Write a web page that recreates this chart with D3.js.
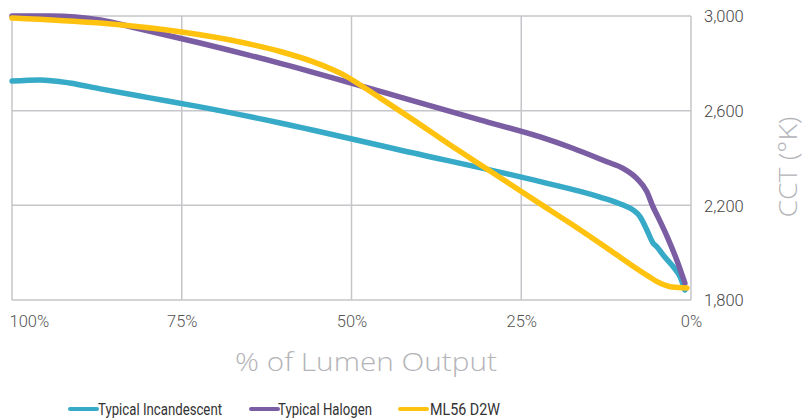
<!DOCTYPE html>
<html>
<head>
<meta charset="utf-8">
<script src="https://cdn.jsdelivr.net/npm/d3@7"></script>
<style>
  html, body { margin: 0; padding: 0; background: #fff; }
  svg { display: block; }
</style>
</head>
<body>
<svg id="chart" width="805" height="418"></svg>
<script>
// ---- Data ----
const xTicks = [100, 75, 50, 25, 0];
const xTickLabels = ["100%", "75%", "50%", "25%", "0%"];
const yTicks = [1800, 2200, 2600, 3000];
const yTickLabels = ["1,800", "2,200", "2,600", "3,000"];

const seriesNames = ["Typical Incandescent", "Typical Halogen", "ML56 D2W"];

const incandescentPct = [100, 95.9, 91.5, 87.0, 79.7, 72.3, 60.5, 42.9, 22.2, 13.4, 10.0, 8.5, 7.5, 6.5, 5.6, 5.0, 4.1, 2.6, 1.6, 0.9];
const incandescentCCT = [2725, 2730, 2717, 2692, 2654, 2616, 2548, 2434, 2300, 2235, 2201, 2180, 2152, 2096, 2041, 2024, 1990, 1940, 1898, 1843];

const halogenPct = [100, 94.4, 90.7, 87.0, 81.1, 72.3, 60.5, 50.7, 40.9, 31.1, 22.2, 17.4, 12.4, 10.0, 8.0, 6.5, 5.6, 5.0, 3.5, 2.1, 0.9];
const halogenCCT = [3000, 3000, 2996, 2983, 2945, 2886, 2800, 2722, 2641, 2561, 2489, 2441, 2384, 2356, 2314, 2258, 2194, 2159, 2067, 1969, 1871];

const ml56Pct = [100, 87.0, 75.0, 66.4, 60.5, 55.7, 50.7, 48.3, 45.8, 40.9, 35.9, 29.6, 22.2, 17.4, 12.4, 9.0, 6.3, 4.6, 2.8, 0.6];
const ml56CCT = [2992, 2970, 2932, 2890, 2850, 2807, 2744, 2701, 2654, 2561, 2463, 2345, 2206, 2117, 2020, 1952, 1901, 1872, 1855, 1851];

const colors = ["#36aac6", "#7b5da3", "#ffc20f"];

// ---- Layout ----
const svg = d3.select("#chart");
const plotLeft = 12, plotRight = 691, plotTop = 16, plotBottom = 300;

const x = d3.scaleLinear().domain([100, 0]).range([plotLeft, plotRight]);
const y = d3.scaleLinear().domain([1800, 3000]).range([plotBottom, plotTop]);

const gridColor = "#c6c6ca";

// Vertical grid
svg.append("g")
  .selectAll("line")
  .data(xTicks)
  .join("line")
  .attr("x1", d => x(d)).attr("x2", d => x(d))
  .attr("y1", plotTop).attr("y2", plotBottom)
  .attr("stroke", gridColor).attr("stroke-width", 1.5);

// Horizontal grid
svg.append("g")
  .selectAll("line")
  .data(yTicks)
  .join("line")
  .attr("x1", plotLeft).attr("x2", plotRight)
  .attr("y1", d => y(d)).attr("y2", d => y(d))
  .attr("stroke", gridColor).attr("stroke-width", 1.5);

// Bottom axis labels
const xAxis = d3.axisBottom(x)
  .tickValues(xTicks)
  .tickSize(0)
  .tickPadding(0)
  .tickFormat((d, i) => xTickLabels[i]);
const gx = svg.append("g").attr("transform", `translate(0,${plotBottom})`).call(xAxis);
gx.select(".domain").remove();
gx.selectAll("text")
  .attr("y", 27)
  .attr("dy", 0)
  .attr("font-family", "Roboto, 'Liberation Sans', sans-serif")
  .attr("font-weight", 300)
  .attr("font-size", 16.5)
  .attr("fill", "#555");
gx.selectAll(".tick").filter(d => d === 100).select("text")
  .attr("text-anchor", "start").attr("x", -3);

// Right axis labels
const yAxis = d3.axisRight(y)
  .tickValues(yTicks)
  .tickSize(0)
  .tickPadding(0)
  .tickFormat((d, i) => yTickLabels[i]);
const gy = svg.append("g").attr("transform", `translate(${plotRight},0)`).call(yAxis);
gy.select(".domain").remove();
gy.selectAll("text")
  .attr("x", 13)
  .attr("dy", "0.36em")
  .attr("font-family", "Roboto, 'Liberation Sans', sans-serif")
  .attr("font-weight", 300)
  .attr("font-size", 16.5)
  .attr("fill", "#444");

// Axis titles
svg.append("text")
  .attr("x", 366).attr("y", 371)
  .attr("text-anchor", "middle")
  .attr("font-family", "'Open Sans', Lato, sans-serif")
  .attr("font-weight", 300)
  .attr("font-size", 26)
  .attr("fill", "#b4b4b8")
  .attr("textLength", 262)
  .attr("lengthAdjust", "spacingAndGlyphs")
  .text("% of Lumen Output");

svg.append("text")
  .attr("transform", "translate(797,167) rotate(-90)")
  .attr("text-anchor", "middle")
  .attr("font-family", "'Open Sans', Lato, sans-serif")
  .attr("font-weight", 300)
  .attr("font-size", 26)
  .attr("fill", "#b4b4b8")
  .attr("textLength", 101)
  .attr("lengthAdjust", "spacingAndGlyphs")
  .text("CCT (°K)");

// Lines
const series = [
  { name: seriesNames[0], pct: incandescentPct, cct: incandescentCCT, color: colors[0] },
  { name: seriesNames[1], pct: halogenPct, cct: halogenCCT, color: colors[1] },
  { name: seriesNames[2], pct: ml56Pct, cct: ml56CCT, color: colors[2] }
];

const line = d3.line()
  .x(d => x(d[0]))
  .y(d => y(d[1]))
  .curve(d3.curveMonotoneX);

svg.append("g")
  .selectAll("path")
  .data(series)
  .join("path")
  .attr("d", s => line(s.pct.map((p, i) => [p, s.cct[i]])))
  .attr("fill", "none")
  .attr("stroke", s => s.color)
  .attr("stroke-width", 5.5)
  .attr("stroke-linejoin", "round")
  .attr("stroke-linecap", "round");

// Legend
const legendItems = [
  { lx: 70, tx: 98, tw: 124 },
  { lx: 251, tx: 278, tw: 94 },
  { lx: 400, tx: 430, tw: 70 }
];
const lg = svg.append("g");
series.forEach((s, i) => {
  const it = legendItems[i];
  lg.append("line")
    .attr("x1", it.lx).attr("x2", it.lx + 27)
    .attr("y1", 409).attr("y2", 409)
    .attr("stroke", s.color).attr("stroke-width", 4)
    .attr("stroke-linecap", "round");
  lg.append("text")
    .attr("x", it.tx).attr("y", 414.5)
    .attr("font-family", "Roboto, 'Liberation Sans', sans-serif")
    .attr("font-size", 16.5)
    .attr("fill", "#333")
    .attr("textLength", it.tw)
    .attr("lengthAdjust", "spacingAndGlyphs")
    .text(s.name);
});
</script>
</body>
</html>
